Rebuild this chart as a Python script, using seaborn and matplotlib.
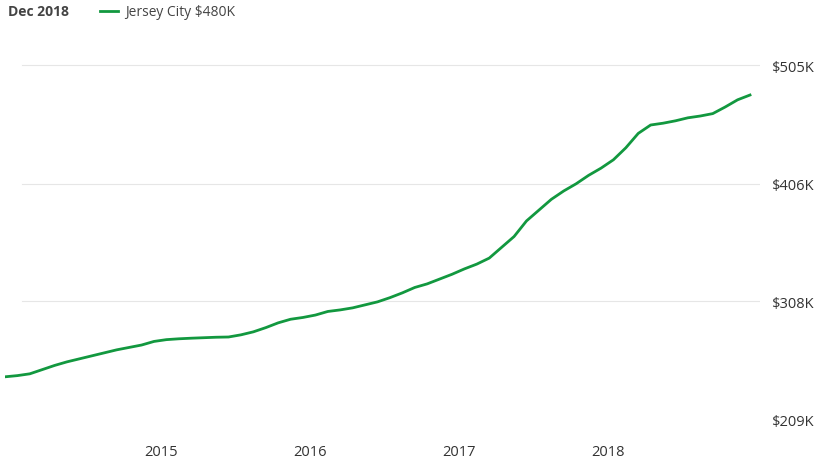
import numpy as np
import pandas as pd
import matplotlib
matplotlib.use("Agg")
import matplotlib.pyplot as plt
import seaborn as sns

plt.rcParams["font.family"] = "Open Sans"

# monthly median value, Dec 2013 .. Dec 2018 (thousands of $)
values = [245, 246, 247.5, 251, 254.5, 257.5, 260, 262.5, 265, 267.5, 269.5, 271.5,
          274.5, 276, 276.7, 277.2, 277.6, 278, 278.2, 280, 282.5, 286, 290, 293,
          294.5, 296.5, 299.5, 300.8, 302.5, 305, 307.5, 311, 315, 319.5, 322.5, 326.5,
          330.5, 335, 339, 344, 353, 362, 375, 384, 393, 400, 406, 413,
          419, 426, 436, 448, 455, 456.5, 458.5, 461, 462.5, 464.5, 470, 476, 480]
start_year = 2013 + 11 / 12
y_ticks = [209, 308, 406, 505]
y_labels = ["$209K", "$308K", "$406K", "$505K"]
x_ticks = [2015, 2016, 2017, 2018]
green = "#12983f"

df = pd.DataFrame({"t": start_year + np.arange(len(values)) / 12, "v": values})

fig = plt.figure(figsize=(8.28, 4.6), dpi=100)
ax = fig.add_axes([5 / 828, 20 / 460, 755 / 828, 410 / 460])
sns.lineplot(data=df, x="t", y="v", ax=ax, color=green, linewidth=2)
ax.set_xlim(start_year, start_year + 755 / 149)
ax.set_ylim(209 - 19 * 0.835, 505 + 36 * 0.835)

for yt in y_ticks[1:]:
    ax.axhline(yt, xmin=17 / 755, xmax=1, color="#e6e6e6", linewidth=0.8, zorder=0)

for s in ax.spines.values():
    s.set_visible(False)
ax.yaxis.tick_right()
ax.set_yticks(y_ticks, y_labels)
ax.set_xticks([x - 0.036 for x in x_ticks], [str(x) for x in x_ticks])
ax.tick_params(length=0, labelsize=10.5, colors="#333333")
ax.tick_params(axis="y", pad=8)
ax.set_xlabel("")
ax.set_ylabel("")

fig.text(8 / 828, 1 - 12 / 460, "Dec 2018", fontsize=10, fontweight="bold",
         color="#444444", va="center")
fig.add_artist(plt.Line2D([100 / 828, 118 / 828], [1 - 12 / 460] * 2,
                          color=green, linewidth=2))
fig.text(125 / 828, 1 - 12 / 460, "Jersey City $480K", fontsize=10,
         color="#444444", va="center")

fig.savefig("out.png", dpi=100)
